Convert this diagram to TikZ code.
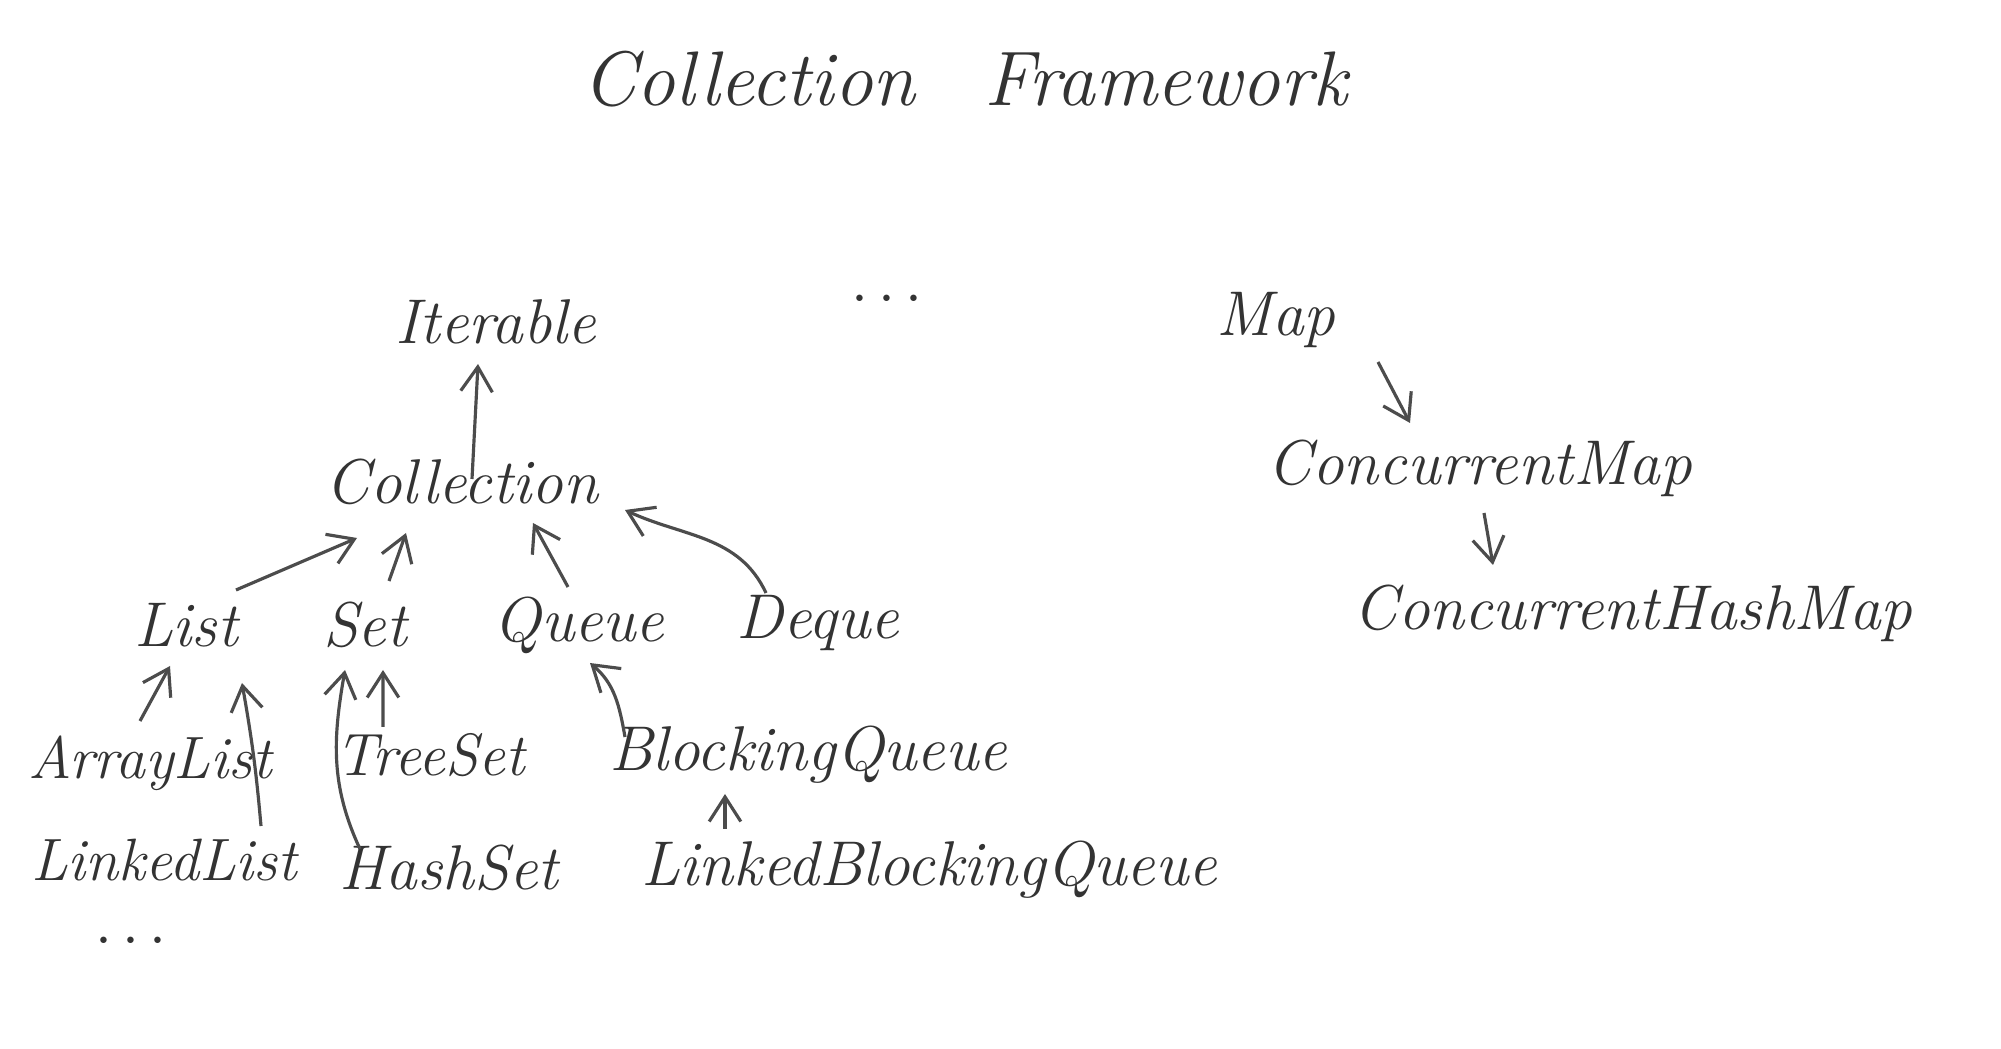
\documentclass[tikz,border=0pt]{standalone}
\usepackage{tikz}
\usetikzlibrary{arrows.meta,positioning}

\begin{document}
\begin{tikzpicture}[
    word/.style={font=\fontsize{18}{21}\selectfont\itshape, text=black!80, inner sep=1pt},
    small/.style={word, font=\fontsize{17}{20}\selectfont\itshape},
    head/.style={font=\fontsize{22}{26}\selectfont\itshape, text=black!80},
    arr/.style={-{Straight Barb[length=7pt,width=9pt]}, line width=0.9pt, black!70}
]
\useasboundingbox[fill=white] (0,0) rectangle (20.01,-10.49);

\node[head] (title) at (9.65,-0.79) {Collection\hspace{0.9em}Framework};

\node[word] (iter) at (4.96,-3.22) {Iterable};
\node[word] (dots1) at (8.87,-3.00) {$\cdots$};
\node[word] (coll) at (4.62,-4.82) {Collection};
\node[word] (list) at (1.86,-6.25) {List};
\node[word] (set) at (3.65,-6.25) {Set};
\node[word] (queue) at (5.79,-6.25) {Queue};
\node[word] (deque) at (8.18,-6.23) {Deque};
\node[small] (alist) at (1.50,-7.63) {ArrayList};
\node[small] (llist) at (1.64,-8.60) {LinkedList};
\node[word] (dots2) at (1.31,-9.42) {$\cdots$};
\node[small] (tset) at (4.30,-7.55) {TreeSet};
\node[word] (hset) at (4.49,-8.68) {HashSet};
\node[word] (bq) at (8.08,-7.55) {BlockingQueue};
\node[word] (lbq) at (9.29,-8.70) {LinkedBlockingQueue};

\node[word] (map) at (12.76,-3.20) {Map};
\node[word] (cmap) at (14.80,-4.68) {ConcurrentMap};
\node[word] (chm) at (16.33,-6.13) {ConcurrentHashMap};

\draw[arr] ([shift={(0.10,0.03)}]coll.center) -- ([shift={(-0.18,-0.42)}]iter.center);
\draw[arr] ([shift={(0.50,0.35)}]list.center) -- ([shift={(-1.05,-0.56)}]coll.center);
\draw[arr] ([shift={(0.24,0.44)}]set.center) -- ([shift={(-0.56,-0.51)}]coll.center);
\draw[arr] ([shift={(-0.11,0.38)}]queue.center) -- ([shift={(0.71,-0.41)}]coll.center);
\draw[arr] ([shift={(-0.52,0.30)}]deque.center) to[out=115,in=-25] ([shift={(1.63,-0.28)}]coll.center);
\draw[arr] ([shift={(-0.10,0.42)}]alist.center) -- ([shift={(-0.16,-0.41)}]list.center);
\draw[arr] ([shift={(0.97,0.34)}]llist.center) to[out=95,in=-80] ([shift={(0.56,-0.58)}]list.center);
\draw[arr] ([shift={(-0.47,0.28)}]tset.center) -- ([shift={(0.18,-0.45)}]set.center);
\draw[arr] ([shift={(-0.89,0.19)}]hset.center) to[out=115,in=-100] ([shift={(-0.20,-0.45)}]set.center);
\draw[arr] ([shift={(-1.83,0.18)}]bq.center) to[out=100,in=-40] ([shift={(0.11,-0.38)}]queue.center);
\draw[arr] ([shift={(-2.04,0.41)}]lbq.center) -- ([shift={(-0.83,-0.39)}]bq.center);
\draw[arr] ([shift={(1.02,-0.42)}]map.center) -- ([shift={(-0.70,0.45)}]cmap.center);
\draw[arr] ([shift={(0.04,-0.45)}]cmap.center) -- ([shift={(-1.40,0.48)}]chm.center);
\end{tikzpicture}
\end{document}
